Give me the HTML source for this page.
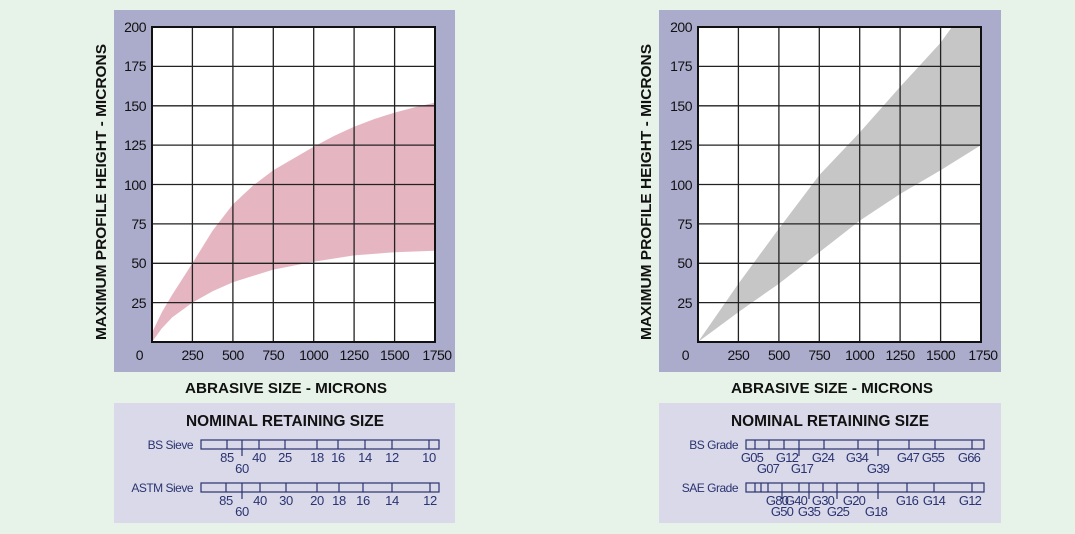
<!DOCTYPE html>
<html><head><style>
html,body{margin:0;padding:0;background:#e7f2e8;}
svg{display:block;font-family:"Liberation Sans",Arial,sans-serif;}
</style></head><body>
<svg width="1075" height="534" viewBox="0 0 1075 534" xmlns="http://www.w3.org/2000/svg">
<rect width="1075" height="534" fill="#e7f2e8"/>

<!-- LEFT CHART -->
<rect x="114" y="10" width="341" height="362" fill="#abaccb"/>
<rect x="152" y="27" width="283" height="315" fill="#fff"/>
<polygon points="152,332.6 162,312 172.2,294.8 192.4,263.3 212.6,230.6 232.9,204.4 253.1,185.5 273.3,170.3 293.5,158.5 313.7,146.7 333.9,136 354.1,126.7 374.4,119 394.6,112.6 414.8,107.3 435,102.6 435,250.7 394.6,252.2 354.1,255.4 313.7,261.7 273.3,269.6 232.9,282.2 212.6,291.2 192.4,302.6 172.2,317.4 161.7,328.5 152,342" fill="#e5b6c1"/>
<g stroke="#222" stroke-width="1.3" fill="none">
<path d="M192.4,27V342M232.9,27V342M273.3,27V342M313.7,27V342M354.1,27V342M394.6,27V342"/>
<path d="M152,66.4H435M152,105.8H435M152,145.1H435M152,184.5H435M152,223.9H435M152,263.3H435M152,302.6H435"/>
</g>
<rect x="152" y="27" width="283" height="315" fill="none" stroke="#111" stroke-width="2"/>
<g font-size="14" text-anchor="end" fill="#111" letter-spacing="-0.5">
<text x="146" y="32">200</text><text x="146" y="71">175</text><text x="146" y="111">150</text><text x="146" y="150">125</text><text x="146" y="190">100</text><text x="146" y="229">75</text><text x="146" y="268">50</text><text x="146" y="308">25</text><text x="143" y="360">0</text>
</g>
<g font-size="14" text-anchor="middle" fill="#111" letter-spacing="-0.5">
<text x="192.4" y="360">250</text><text x="232.9" y="360">500</text><text x="273.3" y="360">750</text><text x="313.7" y="360">1000</text><text x="354.1" y="360">1250</text><text x="394.6" y="360">1500</text><text x="437" y="360">1750</text>
</g>
<text x="286" y="393" font-size="15" font-weight="bold" text-anchor="middle" fill="#111" textLength="202" lengthAdjust="spacingAndGlyphs">ABRASIVE SIZE - MICRONS</text>
<text transform="translate(106,192) rotate(-90)" font-size="15" font-weight="bold" text-anchor="middle" fill="#111" textLength="296" lengthAdjust="spacingAndGlyphs">MAXIMUM PROFILE HEIGHT - MICRONS</text>

<!-- LEFT NOMINAL -->
<rect x="114" y="403" width="341" height="120" fill="#d9d9ea"/>
<text x="285" y="426" font-size="16" font-weight="bold" text-anchor="middle" fill="#111" textLength="198" lengthAdjust="spacingAndGlyphs">NOMINAL RETAINING SIZE</text>
<g font-size="12" fill="#2a3370" letter-spacing="-0.5">
<text x="193" y="449" text-anchor="end">BS Sieve</text>
<text x="193" y="492" text-anchor="end">ASTM Sieve</text>
</g>
<g stroke="#2a3370" stroke-width="1.2" fill="none">
<rect x="201" y="440" width="238" height="9"/>
<path d="M227,440v9M242,440v16M259,440v9M285,440v9M317,440v9M338,440v9M365,440v9M392,440v9M429,440v9"/>
<rect x="201" y="483" width="238" height="9"/>
<path d="M226,483v9M242,483v16M260,483v9M286,483v9M317,483v9M339,483v9M363,483v9M392,483v9M430,483v9"/>
</g>
<g font-size="13" fill="#2a3370" text-anchor="middle" letter-spacing="-0.3">
<text x="227" y="462">85</text><text x="242" y="473">60</text><text x="259" y="462">40</text><text x="285" y="462">25</text><text x="317" y="462">18</text><text x="338" y="462">16</text><text x="365" y="462">14</text><text x="392" y="462">12</text><text x="429" y="462">10</text>
<text x="226" y="505">85</text><text x="242" y="516">60</text><text x="260" y="505">40</text><text x="286" y="505">30</text><text x="317" y="505">20</text><text x="339" y="505">18</text><text x="363" y="505">16</text><text x="392" y="505">14</text><text x="430" y="505">12</text>
</g>

<!-- RIGHT CHART -->
<rect x="659" y="10" width="342" height="362" fill="#abaccb"/>
<rect x="698" y="27" width="283" height="315" fill="#fff"/>
<path d="M698,342 L738.4,283.7 L778.9,228.6 L819.3,175.1 L859.7,132.5 L900.1,86.9 L940.6,42.8 L951.9,27 L981,27 L981,145.1 L940.6,170.3 L900.1,194 L859.7,220.7 L819.3,252.2 L778.9,283.7 L738.4,312.1 Z" fill="#c6c6c6"/>
<g stroke="#222" stroke-width="1.3" fill="none">
<path d="M738.4,27V342M778.9,27V342M819.3,27V342M859.7,27V342M900.1,27V342M940.6,27V342"/>
<path d="M698,66.4H981M698,105.8H981M698,145.1H981M698,184.5H981M698,223.9H981M698,263.3H981M698,302.6H981"/>
</g>
<rect x="698" y="27" width="283" height="315" fill="none" stroke="#111" stroke-width="2"/>
<g font-size="14" text-anchor="end" fill="#111" letter-spacing="-0.5">
<text x="692" y="32">200</text><text x="692" y="71">175</text><text x="692" y="111">150</text><text x="692" y="150">125</text><text x="692" y="190">100</text><text x="692" y="229">75</text><text x="692" y="268">50</text><text x="692" y="308">25</text><text x="689" y="360">0</text>
</g>
<g font-size="14" text-anchor="middle" fill="#111" letter-spacing="-0.5">
<text x="738.4" y="360">250</text><text x="778.9" y="360">500</text><text x="819.3" y="360">750</text><text x="859.7" y="360">1000</text><text x="900.1" y="360">1250</text><text x="940.6" y="360">1500</text><text x="983" y="360">1750</text>
</g>
<text x="832" y="393" font-size="15" font-weight="bold" text-anchor="middle" fill="#111" textLength="202" lengthAdjust="spacingAndGlyphs">ABRASIVE SIZE - MICRONS</text>
<text transform="translate(651,192) rotate(-90)" font-size="15" font-weight="bold" text-anchor="middle" fill="#111" textLength="296" lengthAdjust="spacingAndGlyphs">MAXIMUM PROFILE HEIGHT - MICRONS</text>

<!-- RIGHT NOMINAL -->
<rect x="659" y="403" width="342" height="120" fill="#d9d9ea"/>
<text x="830" y="426" font-size="16" font-weight="bold" text-anchor="middle" fill="#111" textLength="198" lengthAdjust="spacingAndGlyphs">NOMINAL RETAINING SIZE</text>
<g font-size="12" fill="#2a3370" letter-spacing="-0.5">
<text x="738" y="449" text-anchor="end">BS Grade</text>
<text x="738" y="492" text-anchor="end">SAE Grade</text>
</g>
<g stroke="#2a3370" stroke-width="1.2" fill="none">
<rect x="746" y="440" width="238" height="9"/>
<path d="M755,440v9M769,440v9M784,440v9M799,440v16M824,440v9M858,440v9M878,440v16M909,440v9M935,440v9M972,440v9"/>
<rect x="746" y="483" width="238" height="9"/>
<path d="M755,483v9M761,483v9M768,483v9M782,483v16M799,483v9M809,483v16M823,483v9M837,483v16M858,483v9M878,483v16M907,483v9M934,483v9M972,483v9"/>
</g>
<g font-size="13" fill="#2a3370" text-anchor="middle" letter-spacing="-0.8">
<text x="752" y="462">G05</text><text x="787" y="462">G12</text><text x="823" y="462">G24</text><text x="857" y="462">G34</text><text x="908" y="462">G47</text><text x="933" y="462">G55</text><text x="969" y="462">G66</text>
<text x="768" y="473">G07</text><text x="802" y="473">G17</text><text x="878" y="473">G39</text>
<text x="777" y="505">G80</text><text x="796" y="505">G40</text><text x="823" y="505">G30</text><text x="854" y="505">G20</text><text x="907" y="505">G16</text><text x="934" y="505">G14</text><text x="970" y="505">G12</text>
<text x="782" y="516">G50</text><text x="809" y="516">G35</text><text x="838" y="516">G25</text><text x="876" y="516">G18</text>
</g>
</svg>
</body></html>
